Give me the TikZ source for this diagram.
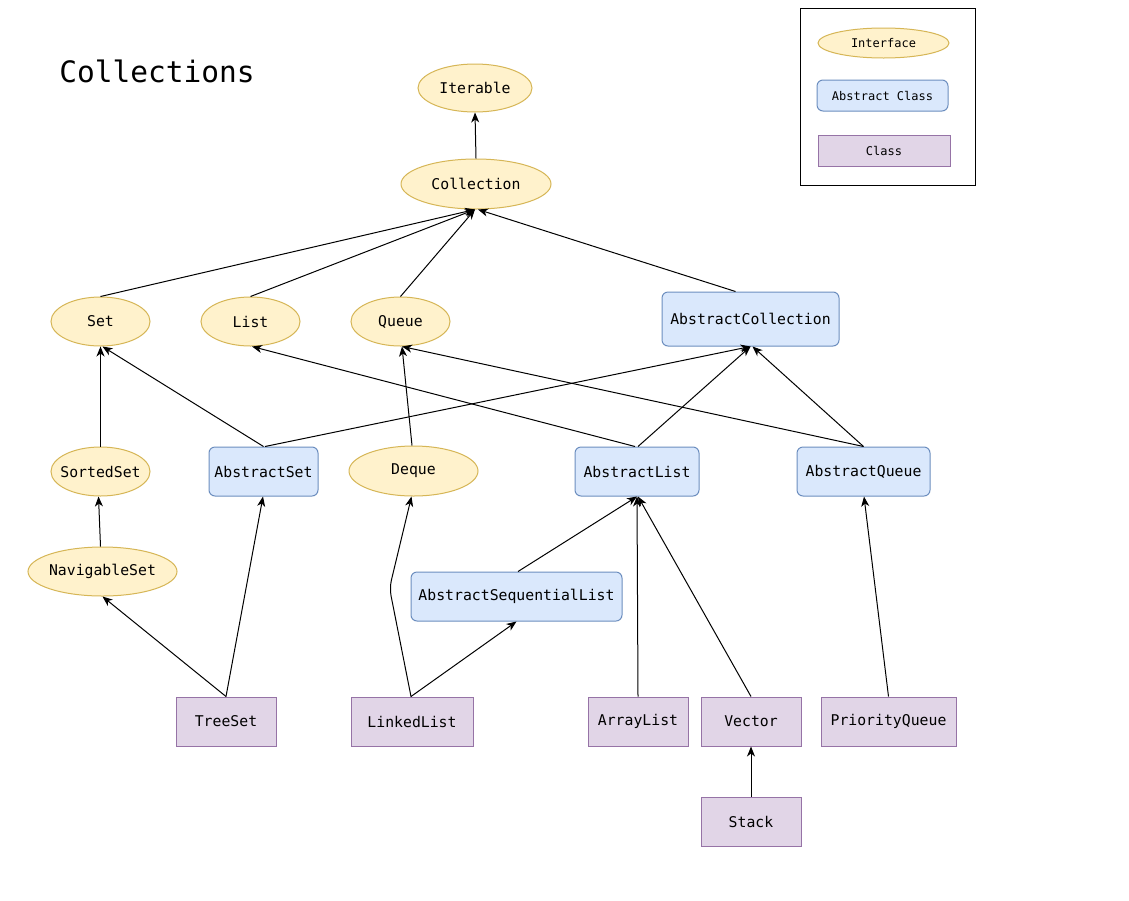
\documentclass[tikz,border=0pt]{standalone}
\usepackage{fontspec}
\setmonofont{DejaVu Sans Mono}
\usetikzlibrary{arrows.meta,shapes.geometric,calc}
\definecolor{ifill}{HTML}{FFF2CC}
\definecolor{idraw}{HTML}{D6B656}
\definecolor{afill}{HTML}{DAE8FC}
\definecolor{adraw}{HTML}{6C8EBF}
\definecolor{cfill}{HTML}{E1D5E7}
\definecolor{cdraw}{HTML}{9673A6}
\newcommand{\zb}[1]{\makebox[0pt]{#1}}
\tikzset{
  base/.style={inner sep=0pt, line width=1pt, font=\ttfamily\fontsize{14.8}{16}\selectfont},
  iface/.style={base, ellipse, draw=idraw, fill=ifill, minimum height=49pt},
  abs/.style={base, rectangle, rounded corners=6pt, draw=adraw, fill=afill, minimum height=49pt},
  cls/.style={base, rectangle, draw=cdraw, fill=cfill, minimum height=49pt},
  arr/.style={-{Stealth[length=10pt,width=8pt,inset=3pt]}, line width=1pt, black},
  leg/.style={font=\ttfamily\fontsize{12}{14}\selectfont, minimum height=30pt}
}
\begin{document}
\begin{tikzpicture}[x=1pt,y=-1pt]
\useasboundingbox (0,0) rectangle (1129,900);
\fill[white] (0,0) rectangle (1129,900);

% title
\node[font=\ttfamily\fontsize{29.5}{32}\selectfont, inner sep=0pt] (title) at (157,71) {Collections};

% legend
\node[draw=black, line width=1pt, minimum width=175pt, minimum height=177pt, inner sep=0pt] (legend) at (887.5,96.5) {};
\node[iface, leg, minimum width=131pt] (lint) at (883.5,43) {\zb{Interface}};
\node[abs, leg, minimum width=131pt, minimum height=31pt] (labs) at (882.5,95.5) {Abstract Class};
\node[cls, leg, minimum width=132pt, minimum height=31pt] (lcls) at (884,150.5) {Class};

% nodes
\node[iface, minimum width=114pt, minimum height=48pt] (iter) at (475,88) {\zb{Iterable}};
\node[iface, minimum width=150pt, minimum height=50pt] (coll) at (476,184) {\zb{Collection}};
\node[iface, minimum width=99pt] (set) at (100.5,321.5) {\zb{Set}};
\node[iface, minimum width=99pt] (list) at (250.5,321.5) {\zb{List}};
\node[iface, minimum width=99pt] (queue) at (400.5,321.5) {\zb{Queue}};
\node[abs, minimum width=177pt, minimum height=54pt] (acoll) at (750.5,319) {AbstractCollection};
\node[iface, minimum width=99pt] (sset) at (100.5,471.5) {\zb{SortedSet}};
\node[abs, minimum width=109pt] (aset) at (263.5,471.5) {AbstractSet};
\node[iface, minimum width=129pt, minimum height=50pt] (deque) at (413.5,471) {\zb{Deque}};
\node[abs, minimum width=124pt] (alist) at (637,471.5) {AbstractList};
\node[abs, minimum width=133pt] (aqueue) at (863.5,471.5) {AbstractQueue};
\node[iface, minimum width=149pt] (nset) at (102.5,571.5) {\zb{NavigableSet}};
\node[abs, minimum width=211pt] (aslist) at (516.5,596.5) {AbstractSequentialList};
\node[cls, minimum width=100pt] (tset) at (226,721.5) {TreeSet};
\node[cls, minimum width=122pt] (llist) at (412,721.5) {LinkedList};
\node[cls, minimum width=100pt] (alst) at (638,721.5) {ArrayList};
\node[cls, minimum width=100pt] (vec) at (751,721.5) {Vector};
\node[cls, minimum width=135pt] (pq) at (888.5,721.5) {PriorityQueue};
\node[cls, minimum width=100pt] (stack) at (751,821.5) {Stack};

% edges
\draw[arr] (coll.north) -- (iter.south);
\draw[arr] (set.north) -- ([xshift=-1pt]coll.south);
\draw[arr] (list.north) -- ([xshift=-1pt]coll.south);
\draw[arr] (queue.north) -- ([xshift=-1pt]coll.south);
\draw[arr] ([xshift=-15pt]acoll.north) -- ([xshift=2pt]coll.south);
\draw[arr] (sset.north) -- (set.south);
\draw[arr] (aset.north) -- ([xshift=2pt]set.south);
\draw[arr] ([xshift=1.5pt]aset.north) -- (acoll.south);
\draw[arr] ([xshift=-1.5pt]deque.north) -- ([xshift=1.5pt]queue.south);
\draw[arr] ([xshift=-2pt]alist.north) -- ([xshift=1.5pt]list.south);
\draw[arr] ([xshift=1pt]alist.north) -- (acoll.south);
\draw[arr] (aqueue.north) -- ([xshift=1.5pt]queue.south);
\draw[arr] (aqueue.north) -- ([xshift=2pt]acoll.south);
\draw[arr] ([xshift=-2pt]nset.north) -- ([xshift=-2pt]sset.south);
\draw[arr] (tset.north) -- (nset.south);
\draw[arr] (tset.north) -- ([xshift=-0.5pt]aset.south);
\coordinate (bend) at (389.5,588);
\draw[arr, rounded corners=8pt] ([xshift=-1pt]llist.north) -- (bend) -- ([xshift=-2pt]deque.south);
\draw[arr] ([xshift=-1pt]llist.north) -- (aslist.south);
\draw[arr] ([xshift=1.5pt]aslist.north) -- (alist.south);
\draw[arr] (alst.north) -- (alist.south);
\draw[arr] (vec.north) -- ([xshift=1pt]alist.south);
\draw[arr] (pq.north) -- ([xshift=0.5pt]aqueue.south);
\draw[arr] (stack.north) -- (vec.south);
\end{tikzpicture}
\end{document}
